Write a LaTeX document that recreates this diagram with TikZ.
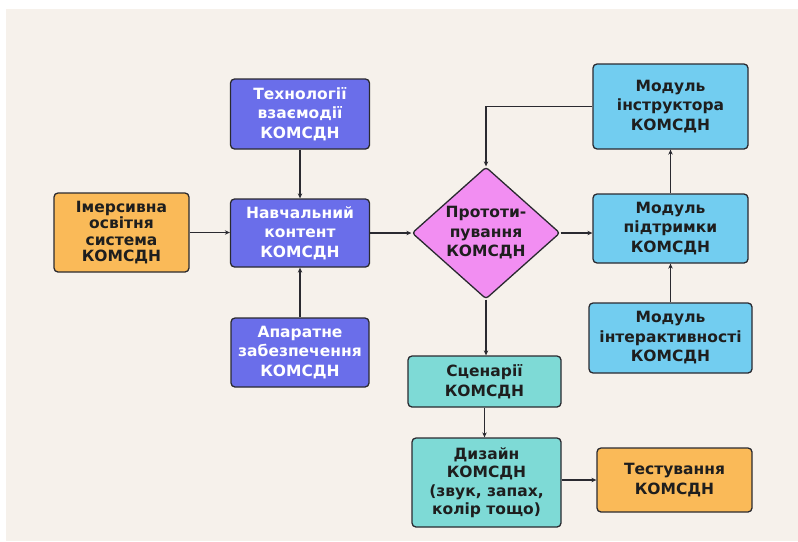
\documentclass[tikz,border=0pt]{standalone}
\usepackage{fontspec}
\setmainfont{DejaVu Sans}
\usepackage{tikz}
\usetikzlibrary{arrows.meta,positioning,shapes.geometric}

\definecolor{bgbeige}{RGB}{246,241,235}
\definecolor{violetbox}{RGB}{106,110,234}
\definecolor{orangebox}{RGB}{250,186,88}
\definecolor{skybox}{RGB}{114,205,240}
\definecolor{pinkbox}{RGB}{242,142,242}
\definecolor{tealbox}{RGB}{126,218,214}
\definecolor{edgegray}{RGB}{42,42,48}
\definecolor{inkblack}{RGB}{30,30,30}

\begin{document}
\begin{tikzpicture}[x=1pt, y=-1pt,
    box/.style={draw=edgegray, line width=1.3pt, rounded corners=4pt, align=center,
        inner sep=2pt, text=inkblack, font=\bfseries\fontsize{15.5}{19.5}\selectfont},
    link/.style={draw=edgegray, line width=1.2pt, -{Stealth[length=5pt,width=4.5pt]}}]
    % Canvas
    \useasboundingbox (0, 0) rectangle (798, 541);
    \fill[white] (0, 0) rectangle (798, 541);
    \fill[bgbeige] (6, 9) rectangle (798, 541);

    % Left column
    \node[box, fill=orangebox, minimum width=135pt, minimum height=79pt,
        font=\bfseries\fontsize{15.5}{16.5}\selectfont] (immersive) at (121.5, 232.5)
        {Імерсивна\\освітня\\система\\КОМСДН};
    \node[box, fill=violetbox, text=white, minimum width=139pt, minimum height=70pt] (tech) at (300, 114)
        {Технології\\взаємодії\\КОМСДН};
    \node[box, fill=violetbox, text=white, minimum width=139pt, minimum height=68pt] (content) at (300, 233)
        {Навчальний\\контент\\КОМСДН};
    \node[box, fill=violetbox, text=white, minimum width=138pt, minimum height=69pt] (hardware) at (300, 352.5)
        {Апаратне\\забезпечення\\КОМСДН};

    % Prototyping
    \node[box, diamond, aspect=1.1, rounded corners=3pt, fill=pinkbox, inner sep=0pt,
        minimum width=148pt, minimum height=132pt] (proto) at (486, 233)
        {Прототи-\\пування\\КОМСДН};
    \node[box, fill=tealbox, minimum width=153pt, minimum height=51pt] (scenario) at (484.5, 381.5)
        {Сценарії\\КОМСДН};
    \node[box, fill=tealbox, minimum width=149pt, minimum height=89pt,
        font=\bfseries\fontsize{15.5}{18.5}\selectfont] (design) at (486.5, 482.5)
        {Дизайн\\КОМСДН\\(звук, запах,\\колір тощо)};

    % Modules
    \node[box, fill=skybox, minimum width=155pt, minimum height=85pt] (instructor) at (670.5, 106.5)
        {Модуль\\інструктора\\КОМСДН};
    \node[box, fill=skybox, minimum width=155pt, minimum height=69pt] (support) at (670.5, 228.5)
        {Модуль\\підтримки\\КОМСДН};
    \node[box, fill=skybox, minimum width=163pt, minimum height=70pt] (interact) at (670.5, 338)
        {Модуль\\інтерактивності\\КОМСДН};
    \node[box, fill=orangebox, minimum width=155pt, minimum height=64pt] (testing) at (674.5, 480)
        {Тестування\\КОМСДН};

    % Connectors
    \draw[link] (tech) -- (content);
    \draw[link] (hardware.north) -- (hardware.north |- content.south);
    \draw[link] (immersive.east) -- (immersive.east -| content.west);
    \draw[link] (content) -- (proto);
    \draw[link] (proto.east) -- (proto.east -| support.west);
    \draw[link] (support) -- (instructor);
    \draw[link] (interact) -- (support);
    \draw[link] (instructor.west) -| (proto.north);
    \draw[link] (proto.south) -- (proto.south |- scenario.north);
    \draw[link] (scenario.south) -- (scenario.south |- design.north);
    \draw[link] (design.east |- testing.west) -- (testing.west);
\end{tikzpicture}
\end{document}
